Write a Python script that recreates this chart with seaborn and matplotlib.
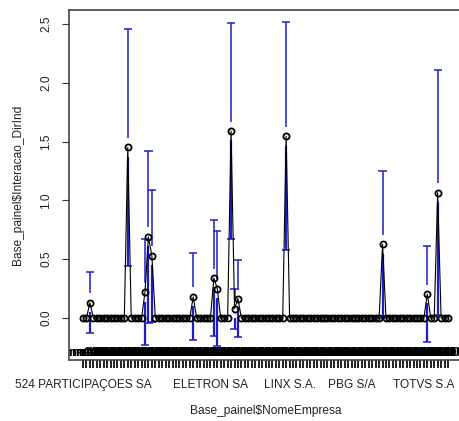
import numpy as np
import pandas as pd
import matplotlib
matplotlib.use("Agg")
import matplotlib.pyplot as plt
import matplotlib.transforms as mtransforms
import seaborn as sns

# ---- data ----
n_companies = 107
label_idx = [0, 37, 60, 78, 99]
label_txt = ["524 PARTICIPAÇOES SA", "ELETRON SA", "LINX S.A.", "PBG S/A", "TOTVS S.A"]
# companies with a non-zero mean (all others have mean 0 and no visible CI)
nz_idx = [2, 13, 18, 19, 20, 32, 38, 39, 43, 44, 45, 59, 87, 100, 103]
nz_mean = [0.13, 1.45, 0.22, 0.69, 0.53, 0.18, 0.34, 0.25, 1.59, 0.08, 0.165, 1.545, 0.627, 0.204, 1.065]
nz_half = [0.26, 1.01, 0.45, 0.73, 0.56, 0.37, 0.49, 0.49, 0.915, 0.17, 0.325, 0.97, 0.625, 0.41, 1.04]
n_label = "n=10"
y_ticks = [0.0, 0.5, 1.0, 1.5, 2.0, 2.5]

pos = np.arange(n_companies)
means = np.zeros(n_companies)
means[nz_idx] = nz_mean
df = pd.DataFrame({"pos": pos, "mean": means})

sns.set_style("white")
plt.rcParams["font.family"] = ["Liberation Sans", "DejaVu Sans"]

W, H = 459, 421
fig = plt.figure(figsize=(W / 100, H / 100), dpi=100)
ax = fig.add_axes([69 / W, 61 / H, (462 - 69) / W, 350 / H])

xlim = (-4.07, n_companies - 1 + 4.07)
ylim = (-0.357, 2.619)

# CI bars with a gap around the mean (R plotCI style)
blue = "#1e1ec8"
gap = 0.08
lo = np.array(nz_mean) - np.array(nz_half)
hi = np.array(nz_mean) + np.array(nz_half)
m = np.array(nz_mean)
ax.vlines(nz_idx, m + gap, hi, color=blue, lw=1.1, zorder=2)
ax.vlines(nz_idx, lo, np.maximum(m - gap, lo), color=blue, lw=1.6, zorder=2)
cw = 1.2
ax.hlines(hi, np.array(nz_idx) - cw, np.array(nz_idx) + cw, color=blue, lw=1.1, zorder=2)
ax.hlines(lo, np.array(nz_idx) - cw, np.array(nz_idx) + cw, color=blue, lw=1.1, zorder=2)

# connecting line and mean points
sns.lineplot(data=df, x="pos", y="mean", ax=ax, color="black", lw=0.8, sort=False,
             marker="o", markersize=4.4, markerfacecolor="none",
             markeredgecolor="black", markeredgewidth=1.3, zorder=3)

# n= labels along the bottom
trans = mtransforms.blended_transform_factory(ax.transData, ax.transAxes)
for p in pos:
    ax.text(p, 0.004, n_label, transform=trans, ha="center", va="bottom",
            fontsize=9.5, fontweight="bold", color="black", zorder=4)

ax.set_xlim(*xlim)
ax.set_ylim(*ylim)
ax.set_xticks(pos)
xt = [""] * n_companies
for i, t in zip(label_idx, label_txt):
    xt[i] = t
ax.set_xticklabels(xt, fontsize=8.6, color="#222222")
ax.set_yticks(y_ticks)
ax.set_yticklabels([f"{v:.1f}" for v in y_ticks], rotation=90, va="center",
                   fontsize=8.6, color="#222222")
ax.tick_params(axis="x", bottom=True, direction="out", length=5.5, width=1.4,
               color="#222222", pad=8)
ax.tick_params(axis="y", left=True, direction="out", length=5, width=0.8,
               color="#333333", pad=7)
ax.set_xlabel("")
ax.set_ylabel("")
for s in ax.spines.values():
    s.set_visible(True)
    s.set_color("#444444")
    s.set_linewidth(1.2)

fig.text(265.5 / W, 1 - 411 / H, r"Base_painel\$NomeEmpresa", ha="center", va="center",
         fontsize=8.6, color="#222222")
fig.text(18 / W, 1 - 185 / H, r"Base_painel\$Interacao_DirInd", ha="center", va="center",
         rotation=90, fontsize=8.6, color="#222222")

fig.savefig("out.png", dpi=100, facecolor="white")
